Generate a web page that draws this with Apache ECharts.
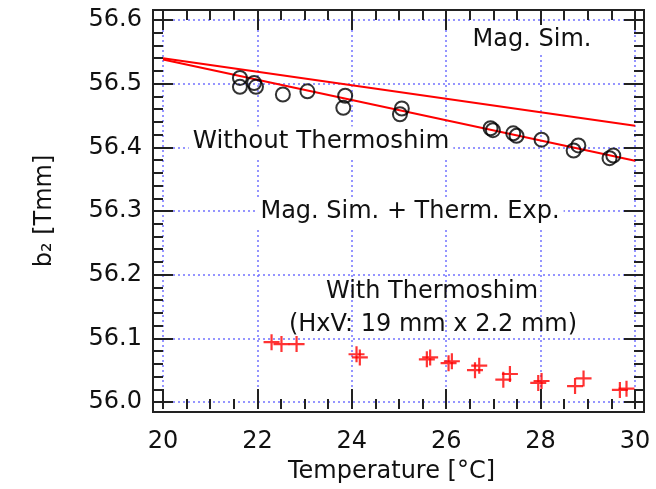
<!DOCTYPE html>
<html>
<head>
<meta charset="utf-8">
<script src="https://cdn.jsdelivr.net/npm/echarts@6/dist/echarts.min.js"></script>
<style>
  html, body { margin: 0; padding: 0; background: #fff; }
  #chart { width: 656px; height: 489px; }
</style>
</head>
<body>
<div id="chart"></div>
<script>
// measured points, [temperature, b2]
var withoutThermoshim = [
  [21.63, 56.509], [21.63, 56.495], [21.93, 56.501], [21.97, 56.495],
  [22.54, 56.483], [23.06, 56.488], [23.86, 56.481], [23.82, 56.462],
  [25.06, 56.461], [25.02, 56.452], [26.94, 56.430], [26.99, 56.427],
  [27.42, 56.422], [27.49, 56.418], [28.02, 56.412], [28.70, 56.395],
  [28.80, 56.403], [29.46, 56.383], [29.54, 56.387]
]
var withThermoshim = [
  [22.30, 56.094], [22.51, 56.091], [22.83, 56.091], [24.10, 56.075],
  [24.17, 56.070], [25.59, 56.067], [25.66, 56.070], [26.05, 56.061],
  [26.12, 56.064], [26.61, 56.050], [26.70, 56.057], [27.21, 56.035],
  [27.35, 56.044], [27.95, 56.030], [28.02, 56.033], [28.73, 56.025],
  [28.91, 56.037], [29.68, 56.019], [29.82, 56.021]
]
// simulation lines
var magSim = [[20, 56.540], [30, 56.434]]
var magSimThermExp = [[20, 56.538], [30, 56.379]]

var xTicks = [20, 30, 2]
var yTicks = [56.0, 56.6, 0.1]

var font = 'DejaVu Sans'
var txt = '#111'
var gridBlue = '#7373ff'
var tickStyle = { color: '#222', width: 2 }

var chart = echarts.init(document.getElementById('chart'))

// tick-only axis on the data grid, pushed out to the frame with offset
function tickAxis(extra, split) {
  var ax = {
    type: 'value',
    gridIndex: 0,
    axisLine: { show: false },
    axisTick: { show: true, inside: true, length: 20, lineStyle: tickStyle },
    minorTick: { show: true, splitNumber: split, length: 10, lineStyle: tickStyle },
    splitLine: { show: false },
    axisLabel: { show: false }
  }
  return Object.assign(ax, extra)
}

chart.setOption({
  animation: false,
  backgroundColor: '#fff',
  grid: [
    { left: 163, right: 21, top: 20, bottom: 84 },
    { left: 153, right: 12, top: 10, bottom: 77, show: true, borderColor: '#222', borderWidth: 2, backgroundColor: 'transparent' }
  ],
  xAxis: [
    tickAxis({
      position: 'bottom', offset: 7,
      min: xTicks[0], max: xTicks[1], interval: xTicks[2],
      axisLabel: { show: true, margin: 21, fontFamily: font, fontSize: 24, color: txt },
      splitLine: { show: true, lineStyle: { color: gridBlue, type: [2, 3], width: 1.5 } },
      name: 'Temperature [°C]',
      nameLocation: 'middle',
      nameGap: 51,
      nameTextStyle: { fontFamily: font, fontSize: 24, color: txt, padding: [0, 15, 0, 0] }
    }, 4),
    tickAxis({
      position: 'top', offset: 10,
      min: xTicks[0], max: xTicks[1], interval: xTicks[2]
    }, 4),
    { type: 'value', gridIndex: 1, show: false, min: 0, max: 1 }
  ],
  yAxis: [
    tickAxis({
      position: 'left', offset: 10,
      min: yTicks[0], max: yTicks[1], interval: yTicks[2],
      axisLabel: {
        show: true, margin: 11, fontFamily: font, fontSize: 24, color: txt,
        padding: [4, 0, 0, 0],
        formatter: function (v) { return v.toFixed(1) }
      },
      splitLine: { show: true, lineStyle: { color: gridBlue, type: [2, 3], width: 1.5 } },
      name: 'b₂ [Tmm]',
      nameLocation: 'middle',
      nameGap: 96,
      nameTextStyle: { fontFamily: font, fontSize: 24, color: txt }
    }, 5),
    tickAxis({
      position: 'right', offset: 9,
      min: yTicks[0], max: yTicks[1], interval: yTicks[2]
    }, 5),
    { type: 'value', gridIndex: 1, show: false, min: 0, max: 1 }
  ],
  graphic: [
    { type: 'text', x: 532, y: 40, z: 10, style: { text: 'Mag. Sim.', font: '24px "DejaVu Sans"', fill: txt, align: 'center', verticalAlign: 'middle', backgroundColor: '#fff', padding: [3, 4] } },
    { type: 'text', x: 321, y: 142, z: 10, style: { text: 'Without Thermoshim', font: '24.5px "DejaVu Sans"', fill: txt, align: 'center', verticalAlign: 'middle', backgroundColor: '#fff', padding: [3, 4] } },
    { type: 'text', x: 410, y: 212, z: 10, style: { text: 'Mag. Sim. + Therm. Exp.', font: '24px "DejaVu Sans"', fill: txt, align: 'center', verticalAlign: 'middle', backgroundColor: '#fff', padding: [3, 4] } },
    { type: 'text', x: 432, y: 292, z: 10, style: { text: 'With Thermoshim', font: '24px "DejaVu Sans"', fill: txt, align: 'center', verticalAlign: 'middle' } },
    { type: 'text', x: 433, y: 325, z: 10, style: { text: '(HxV: 19 mm x 2.2 mm)', font: '24px "DejaVu Sans"', fill: txt, align: 'center', verticalAlign: 'middle' } }
  ],
  series: [
    {
      name: 'Mag. Sim.', type: 'line', xAxisIndex: 0, yAxisIndex: 0,
      data: magSim, showSymbol: false, lineStyle: { color: '#ff0000', width: 2 }, z: 3
    },
    {
      name: 'Mag. Sim. + Therm. Exp.', type: 'line', xAxisIndex: 0, yAxisIndex: 0,
      data: magSimThermExp, showSymbol: false, lineStyle: { color: '#ff0000', width: 2 }, z: 3
    },
    {
      name: 'Without Thermoshim', type: 'scatter', xAxisIndex: 0, yAxisIndex: 0,
      data: withoutThermoshim, symbol: 'circle', symbolSize: 14,
      itemStyle: { color: 'transparent', borderColor: '#000', borderWidth: 2 }, z: 4
    },
    {
      name: 'With Thermoshim', type: 'scatter', xAxisIndex: 0, yAxisIndex: 0,
      data: withThermoshim, symbol: 'path://M5,0L5,10M0,5L10,5', symbolSize: 16,
      itemStyle: { color: 'none', borderColor: '#ff0000', borderWidth: 2.2 }, z: 4
    }
  ]
})
</script>
</body>
</html>
